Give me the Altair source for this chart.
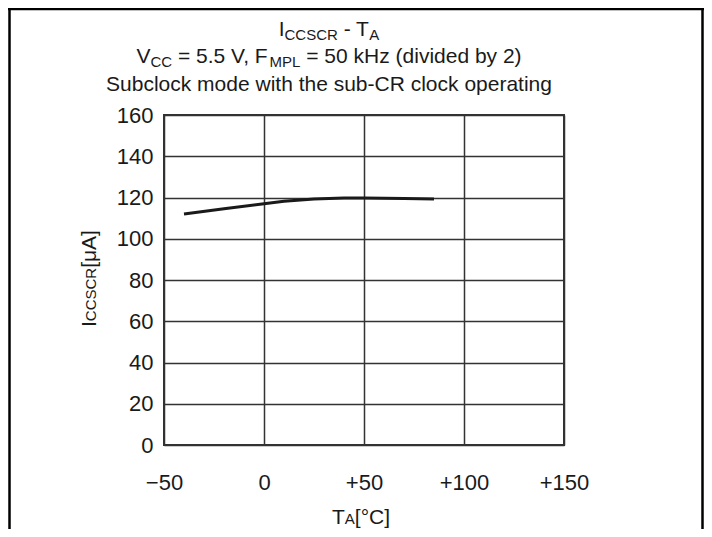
import altair as alt
import pandas as pd

# ---- data ----
temps = [-40, -20, 0, 10, 25, 40, 50, 70, 85]
current = [112, 114.5, 117, 118.2, 119.3, 119.8, 119.8, 119.5, 119.3]
x_ticks = [-50, 0, 50, 100, 150]
y_ticks = [0, 20, 40, 60, 80, 100, 120, 140, 160]

FONT = "Liberation Sans"
INK = "#1a1a1a"

df = pd.DataFrame({"T": temps, "I": current})
anchor = alt.Data(values=[{"k": 1}])

# Arial / Liberation Sans advance widths (1/1000 em)
W = {' ': 278, '-': 333, '=': 584, '.': 278, ',': 278, '(': 333, ')': 333,
     '[': 278, ']': 278, 'A': 667, 'C': 722, 'F': 611, 'H': 722, 'I': 278,
     'L': 556, 'M': 833, 'P': 667, 'R': 722, 'S': 667, 'T': 611, 'V': 667,
     'b': 556, 'd': 556, 'e': 556, 'i': 222, 'k': 500, 'v': 500, 'y': 500,
     'z': 500, '°': 400, 'μ': 576}
for d in "0123456789":
    W[d] = 556


def tw(s, size):
    return sum(W.get(c, 556) for c in s) / 1000.0 * size


def piece(text, x, y, size, angle=0):
    kw = dict(text=text, align="left", baseline="alphabetic", fontSize=size,
              font=FONT, color=INK)
    if angle:
        kw["angle"] = angle
    return alt.Chart(anchor).mark_text(**kw).encode(x=alt.value(x), y=alt.value(y))


def rich_line(pieces, center_x, base_y):
    total = sum(tw(t, s) for t, s, _ in pieces)
    cur = center_x - total / 2.0
    out = []
    for t, s, dy in pieces:
        stripped = t.lstrip(" ")
        lead = (len(t) - len(stripped)) * W[' '] / 1000.0 * s
        out.append(piece(stripped.rstrip(" "), cur + lead, base_y + dy, s))
        cur += tw(t, s)
    return out


# ---- main plot ----
line = alt.Chart(df).mark_line(color=INK, strokeWidth=3).encode(
    x=alt.X("T:Q", scale=alt.Scale(domain=[-50, 150], nice=False),
            axis=alt.Axis(values=x_ticks, title=None, labelPadding=27,
                          labelFlush=False, labelOverlap=False, labelBound=False,
                          labelExpr="datum.value > 0 ? '+' + datum.value : (datum.value < 0 ? '\u2212' + abs(datum.value) : '0')")),
    y=alt.Y("I:Q", scale=alt.Scale(domain=[0, 160], nice=False),
            axis=alt.Axis(values=y_ticks, title=None, labelPadding=11,
                          labelFlush=False, labelOverlap=False)),
)

layers = [line]

# Title lines
CX = 165
layers += rich_line([("I", 21, 0), ("CCSCR", 15, 4), (" - T", 21, 0), ("A", 15, 4)], CX, -79)
layers += rich_line([("V", 21, 0), ("CC", 15, 4), (" = 5.5 V, F", 21, 0), ("MPL", 15, 4),
                     (" = 50 kHz (divided by 2)", 21, 0)], CX, -52)
layers.append(alt.Chart(anchor).mark_text(
    text="Subclock mode with the sub-CR clock operating", align="center",
    baseline="alphabetic", fontSize=21, font=FONT, color=INK
).encode(x=alt.value(CX), y=alt.value(-24)))

# X axis title  T(A)[°C]
layers += rich_line([("T", 21, 0), ("A", 15, 0), ("[°C]", 21, 0)], 197, 409)

# Y axis title  I(CCSCR)[μA], rotated
yx, yy = -68, 212
for t, s in [("I", 21), ("CCSCR", 15), ("[μA]", 21)]:
    layers.append(piece(t, yx, yy, s, angle=270))
    yy -= tw(t, s)

# Frame of the figure box
rule_top = alt.Chart(anchor).mark_rule(color="#000", strokeWidth=2.5).encode(
    x=alt.value(-160), x2=alt.value(545), y=alt.value(-106))
rule_left = alt.Chart(anchor).mark_rule(color="#000", strokeWidth=2.5).encode(
    x=alt.value(-154.5), y=alt.value(-110), y2=alt.value(414))
rule_right = alt.Chart(anchor).mark_rule(color="#000", strokeWidth=2.5).encode(
    x=alt.value(538.5), y=alt.value(-110), y2=alt.value(414))
layers += [rule_top, rule_left, rule_right]

chart = alt.layer(*layers).properties(
    width=400, height=330,
    autosize=alt.AutoSizeParams(type="none"),
    padding={"left": 156, "top": 107, "right": 140, "bottom": 84},
    background="white",
).configure_view(
    stroke="#333", strokeWidth=2
).configure_axis(
    domain=False, ticks=False, grid=True, gridColor="#333", gridWidth=1.5,
    gridOpacity=1, labelFont=FONT, labelFontSize=22, labelColor=INK,
)

chart.save("out.html", embed_options={"renderer": "svg", "actions": False})
